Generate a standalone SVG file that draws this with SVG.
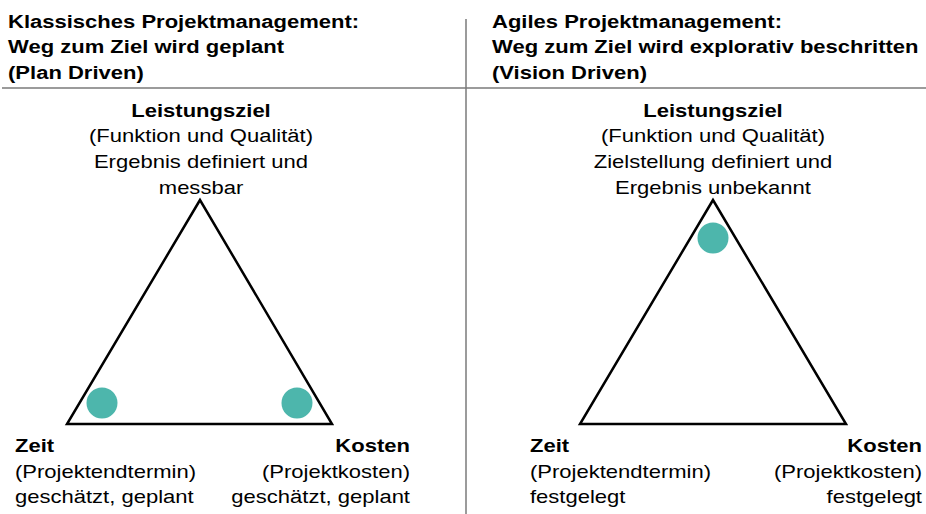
<svg xmlns="http://www.w3.org/2000/svg" width="926" height="514" viewBox="0 0 926 514">
<style>
text{font-family:"Liberation Sans",Arial,sans-serif;fill:#000;font-size:18.67px}
.b{font-weight:bold}
.c{text-anchor:middle}
.r{text-anchor:end}
.tri{fill:none;stroke:#000;stroke-width:2.5;stroke-linejoin:miter}
.dot{fill:#4db6ac}
.sep{stroke:#7a7a7a;stroke-width:1.5}
</style>
<rect width="926" height="514" fill="#fff"/>
<g id="separators">
<line class="sep" x1="2" y1="88" x2="926" y2="88"/>
<line class="sep" x1="466" y1="19" x2="466" y2="514"/>
</g>
<g id="header-left">
<text class="b" transform="matrix(1.18 0 0 1 8 27.5)">Klassisches Projektmanagement:</text>
<text class="b" transform="matrix(1.18 0 0 1 8 53)">Weg zum Ziel wird geplant</text>
<text class="b" transform="matrix(1.18 0 0 1 8 78.5)">(Plan Driven)</text>
</g>
<g id="header-right">
<text class="b" transform="matrix(1.18 0 0 1 492 27.5)">Agiles Projektmanagement:</text>
<text class="b" transform="matrix(1.18 0 0 1 492 53)">Weg zum Ziel wird explorativ beschritten</text>
<text class="b" transform="matrix(1.18 0 0 1 492 78.5)">(Vision Driven)</text>
</g>
<g id="left-triangle">
<polygon class="tri" points="200,200 67,424 332,424"/>
<circle class="dot" cx="102" cy="403" r="15.5"/>
<circle class="dot" cx="297" cy="403" r="15.5"/>
</g>
<g id="left-leistungsziel">
<text class="b c" transform="matrix(1.18 0 0 1 201 116.5)">Leistungsziel</text>
<text class="c" transform="matrix(1.18 0 0 1 201 142.3)">(Funktion und Qualität)</text>
<text class="c" transform="matrix(1.18 0 0 1 201 168)">Ergebnis definiert und</text>
<text class="c" transform="matrix(1.18 0 0 1 201 194)">messbar</text>
</g>
<g id="left-zeit">
<text class="b" transform="matrix(1.18 0 0 1 15 451.7)">Zeit</text>
<text transform="matrix(1.18 0 0 1 15 477.5)">(Projektendtermin)</text>
<text transform="matrix(1.18 0 0 1 15 503.3)">geschätzt, geplant</text>
</g>
<g id="left-kosten">
<text class="b r" transform="matrix(1.18 0 0 1 410 451.7)">Kosten</text>
<text class="r" transform="matrix(1.18 0 0 1 410 477.5)">(Projektkosten)</text>
<text class="r" transform="matrix(1.18 0 0 1 410 503.3)">geschätzt, geplant</text>
</g>
<g id="right-triangle">
<polygon class="tri" points="713,200 580,424 846,424"/>
<circle class="dot" cx="713" cy="238" r="15.5"/>
</g>
<g id="right-leistungsziel">
<text class="b c" transform="matrix(1.18 0 0 1 713 116.5)">Leistungsziel</text>
<text class="c" transform="matrix(1.18 0 0 1 713 142.3)">(Funktion und Qualität)</text>
<text class="c" transform="matrix(1.18 0 0 1 713 168)">Zielstellung definiert und</text>
<text class="c" transform="matrix(1.18 0 0 1 713 194)">Ergebnis unbekannt</text>
</g>
<g id="right-zeit">
<text class="b" transform="matrix(1.18 0 0 1 530 451.7)">Zeit</text>
<text transform="matrix(1.18 0 0 1 530 477.5)">(Projektendtermin)</text>
<text transform="matrix(1.18 0 0 1 530 503.3)">festgelegt</text>
</g>
<g id="right-kosten">
<text class="b r" transform="matrix(1.18 0 0 1 922 451.7)">Kosten</text>
<text class="r" transform="matrix(1.18 0 0 1 922 477.5)">(Projektkosten)</text>
<text class="r" transform="matrix(1.18 0 0 1 922 503.3)">festgelegt</text>
</g>
</svg>
